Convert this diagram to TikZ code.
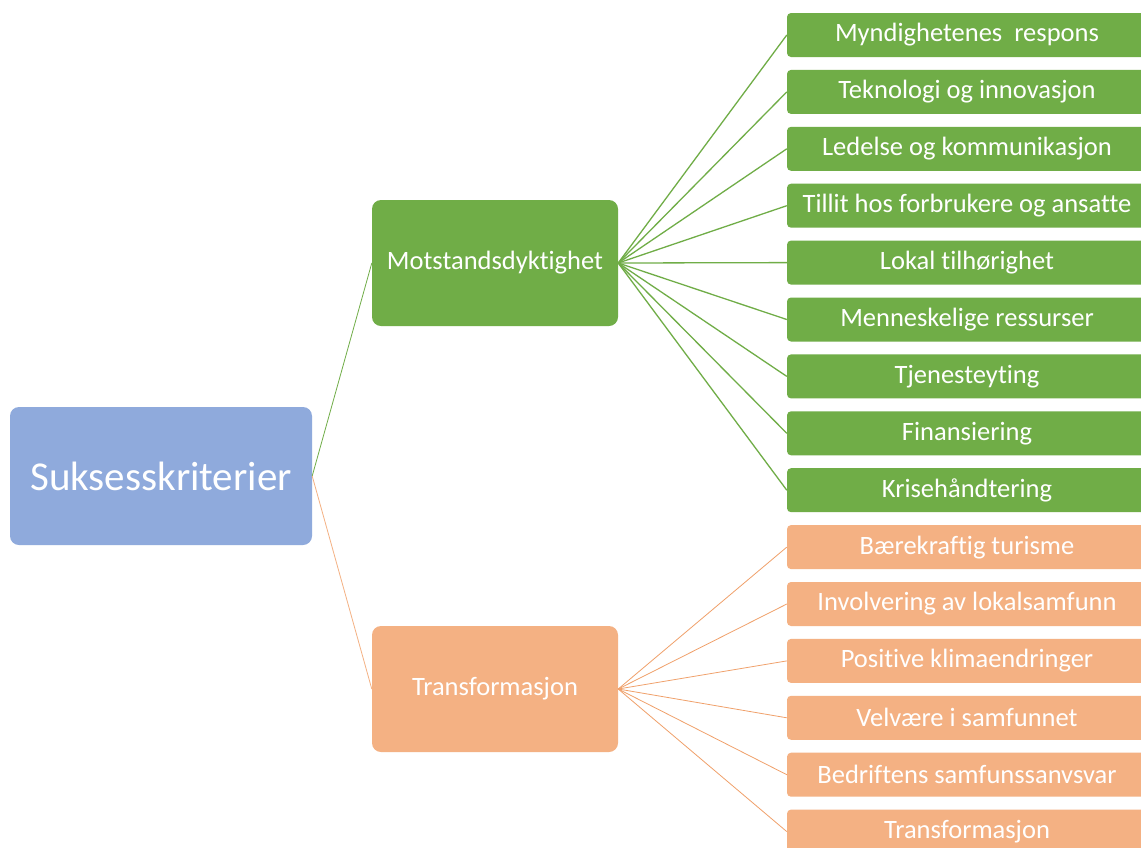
\documentclass[tikz,border=0pt]{standalone}
\usepackage{fontspec}
\setmainfont{Carlito}[Ligatures=NoCommon]
\usepackage{tikz}

\definecolor{rootblue}{HTML}{8FAADC}
\definecolor{mossgreen}{HTML}{70AD47}
\definecolor{peach}{HTML}{F4B183}
\definecolor{peachline}{HTML}{F0A06A}

\begin{document}
\begin{tikzpicture}[x=1pt, y=-1pt,
                box/.style={rectangle, rounded corners=9pt, draw=none, text=white, inner sep=0pt}, % all boxes
                rootbox/.style={box, fill=rootblue, minimum width=302pt, minimum height=138pt, font=\fontsize{41}{48}\selectfont},
                midbox/.style={box, minimum width=246pt, minimum height=126pt, font=\fontsize{26.5}{32}\selectfont},
                leafbox/.style={box, rounded corners=4pt, minimum width=360pt, minimum height=44pt, font=\fontsize{26.5}{32}\selectfont},
                thinlink/.style={line width=0.8pt},
                leaflink/.style={line width=1.3pt}
                ]
                \useasboundingbox (0,0) rectangle (1141,847);
                \fill[white] (0,0) rectangle (1141,847);

                % root and the two branches
                \node[rootbox] (root) at (161,476) {Suksesskriterier};
                \node[midbox, fill=mossgreen] (mot) at (495,263) {Motstandsdyktighet};
                \node[midbox, fill=peach] (trans) at (495,689) {Transformasjon};

                \draw[thinlink, mossgreen] (root.east) -- (mot.west);
                \draw[thinlink, peach] (root.east) -- (trans.west);

                % green leaves
                \foreach \txt [count=\i from 0] in {Myndighetenes~ respons, Teknologi og innovasjon,
                        Ledelse og kommunikasjon, Tillit hos forbrukere og ansatte, Lokal tilhørighet,
                        Menneskelige ressurser, Tjenesteyting, Finansiering, Krisehåndtering} {
                    \node[leafbox, fill=mossgreen] (g\i) at (967,35+56.9*\i) {\txt};
                    \draw[leaflink, mossgreen] (mot.east) -- (g\i.west);
                }

                % orange leaves
                \foreach \txt [count=\i from 9] in {Bærekraftig turisme, Involvering av lokalsamfunn,
                        Positive klimaendringer, Velvære i samfunnet, Bedriftens samfunssanvsvar,
                        Transformasjon} {
                    \node[leafbox, fill=peach] (o\i) at (967,35+56.9*\i) {\txt};
                    \draw[thinlink, peachline] (trans.east) -- (o\i.west);
                }
            \end{tikzpicture}
\end{document}
